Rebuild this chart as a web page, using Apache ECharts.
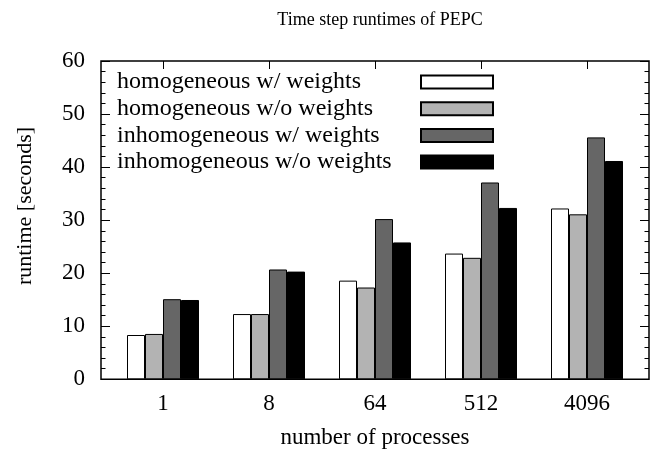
<!DOCTYPE html>
<html lang="en">
<head>
    <meta charset="UTF-8">
    <title>PEPC runtimes</title>
    <script src="https://cdn.jsdelivr.net/npm/echarts@6/dist/echarts.min.js"></script>
    <style>
        html, body { margin: 0; padding: 0; background: #fff; }
        #chart { width: 655px; height: 455px; }
    </style>
</head>
<body>
    <div id="chart"></div>
    <script>
        // data
        var processes = ['1', '8', '64', '512', '4096'];
        var seriesNames = ['homogeneous w/ weights', 'homogeneous w/o weights',
                           'inhomogeneous w/ weights', 'inhomogeneous w/o weights'];
        var homWithW = [8.35, 12.3, 18.6, 23.7, 32.2];
        var homWithoutW = [8.55, 12.3, 17.3, 22.9, 31.1];
        var inhomWithW = [15.1, 20.7, 30.2, 37.1, 45.6];
        var inhomWithoutW = [14.95, 20.3, 25.8, 32.3, 41.15];
        var yTicks = [0, 10, 20, 30, 40, 50, 60];

        var fills = ['#ffffff', '#b3b3b3', '#666666', '#000000'];
        var values = [homWithW, homWithoutW, inhomWithW, inhomWithoutW];
        var font = 'Liberation Serif';

        var chart = echarts.init(document.getElementById('chart'));

        var series = seriesNames.map(function (name, i) {
            return {
                name: name,
                type: 'bar',
                xAxisIndex: 1,
                yAxisIndex: 2,
                barWidth: 18,
                barGap: '0%',
                data: values[i],
                itemStyle: { color: fills[i], borderColor: '#000', borderWidth: 1 },
                emphasis: { disabled: true }
            };
        });

        var option = {
            animation: false,
            title: {
                text: 'Time step runtimes of PEPC',
                left: 375,
                top: 6,
                textAlign: 'center',
                textStyle: { fontFamily: font, fontSize: 18, fontWeight: 'normal', color: '#000' }
            },
            legend: {
                orient: 'vertical',
                left: 117,
                top: 70,
                padding: 0,
                itemGap: 2.7,
                align: 'right',
                itemWidth: 72,
                itemHeight: 13,
                icon: 'rect',
                data: seriesNames,
                formatter: function (n) { return '{a|' + n + '}'; },
                textStyle: {
                    rich: { a: { fontFamily: font, fontSize: 24, color: '#000', width: 299, align: 'left' } }
                }
            },
            graphic: [{
                type: 'text',
                x: 25,
                y: 206,
                rotation: Math.PI / 2,
                style: {
                    text: 'runtime [seconds]',
                    fontFamily: font,
                    fontSize: 22,
                    fill: '#000',
                    align: 'center',
                    verticalAlign: 'middle'
                }
            }],
            grid: [
                { left: 101, right: 6, top: 61, bottom: 75.7, show: true, borderColor: '#000', borderWidth: 1.5, backgroundColor: 'transparent' },
                { left: 110, right: 15, top: 61, bottom: 75.7 }
            ],
            xAxis: [
                { gridIndex: 0, type: 'value', min: 0, max: 1, show: false },
                {
                    gridIndex: 1, type: 'category', data: processes, position: 'bottom',
                    axisLine: { show: false },
                    axisTick: { show: false },
                    axisLabel: { fontFamily: font, fontSize: 23, color: '#000', margin: 13 },
                    name: 'number of processes',
                    nameLocation: 'middle',
                    nameGap: 47,
                    nameTextStyle: { fontFamily: font, fontSize: 23, color: '#000' }
                },
                {
                    gridIndex: 1, type: 'category', data: processes, position: 'top',
                    axisLine: { show: false },
                    axisTick: { show: true, inside: true, length: 8, alignWithLabel: true, lineStyle: { color: '#000' } },
                    axisLabel: { show: false }
                }
            ],
            yAxis: [
                {
                    gridIndex: 0, type: 'value', min: yTicks[0], max: yTicks[yTicks.length - 1], interval: 10,
                    position: 'left',
                    axisLine: { show: false },
                    axisTick: { show: true, inside: true, length: 9, lineStyle: { color: '#000' } },
                    minorTick: { show: true, splitNumber: 5, length: 4.5, lineStyle: { color: '#000' } },
                    splitLine: { show: false },
                    axisLabel: { fontFamily: font, fontSize: 23, color: '#000', margin: 16 }
                },
                {
                    gridIndex: 0, type: 'value', min: yTicks[0], max: yTicks[yTicks.length - 1], interval: 10,
                    position: 'right',
                    axisLine: { show: false },
                    axisTick: { show: true, inside: true, length: 9, lineStyle: { color: '#000' } },
                    minorTick: { show: true, splitNumber: 5, length: 4.5, lineStyle: { color: '#000' } },
                    splitLine: { show: false },
                    axisLabel: { show: false }
                },
                { gridIndex: 1, type: 'value', min: 0, max: 60, show: false }
            ],
            series: series
        };

        chart.setOption(option);
    </script>
</body>
</html>
